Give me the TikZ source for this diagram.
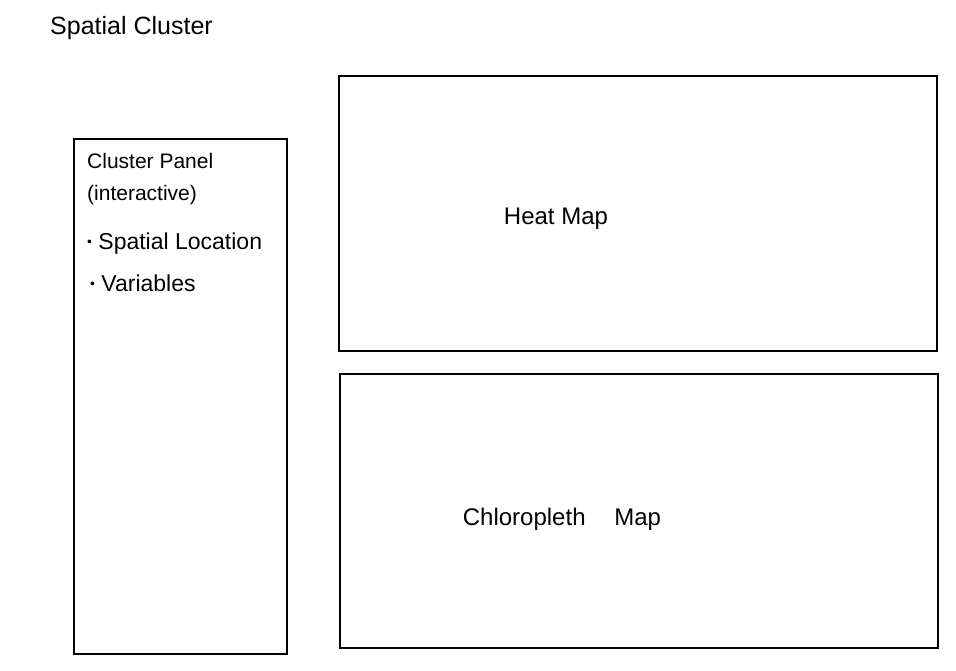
\documentclass[tikz,border=0pt]{standalone}
\usepackage{fontspec}
\setmainfont{Liberation Sans}
\newcommand{\mydot}{\raisebox{0.25ex}{\scalebox{0.6}{\textbullet}}}
\begin{document}
\begin{tikzpicture}[x=1pt,y=-1pt,
  panel/.style={draw=black,line width=2.7pt},
  lbl/.style={anchor=west,inner sep=0pt,font=\fontsize{21}{24}\selectfont},
  bul/.style={anchor=west,inner sep=0pt,font=\fontsize{23}{26}\selectfont},
  maplbl/.style={anchor=center,inner sep=0pt,font=\fontsize{24}{28}\selectfont}]
\useasboundingbox[fill=white] (0,0) rectangle (956,670);
\node[lbl,font=\fontsize{25}{28}\selectfont] (title) at (50,28) {Spatial Cluster};
\draw[panel] (74,139) rectangle (287,654);
\node[lbl] (l1) at (87,161) {Cluster Panel};
\node[lbl] (l2) at (87,195) {(interactive)};
\node[bul] (l3) at (87,244) {\mydot\ Spatial Location};
\node[bul] (l4) at (90,283) {\mydot\ Variables};
\draw[panel] (339,76) rectangle (937,351);
\node[maplbl] (heat) at (556,219) {Heat Map};
\draw[panel] (340,374) rectangle (938,648);
\node[maplbl] (chloro) at (562,519) {Chloropleth\hspace{1.2em}Map};
\end{tikzpicture}
\end{document}
